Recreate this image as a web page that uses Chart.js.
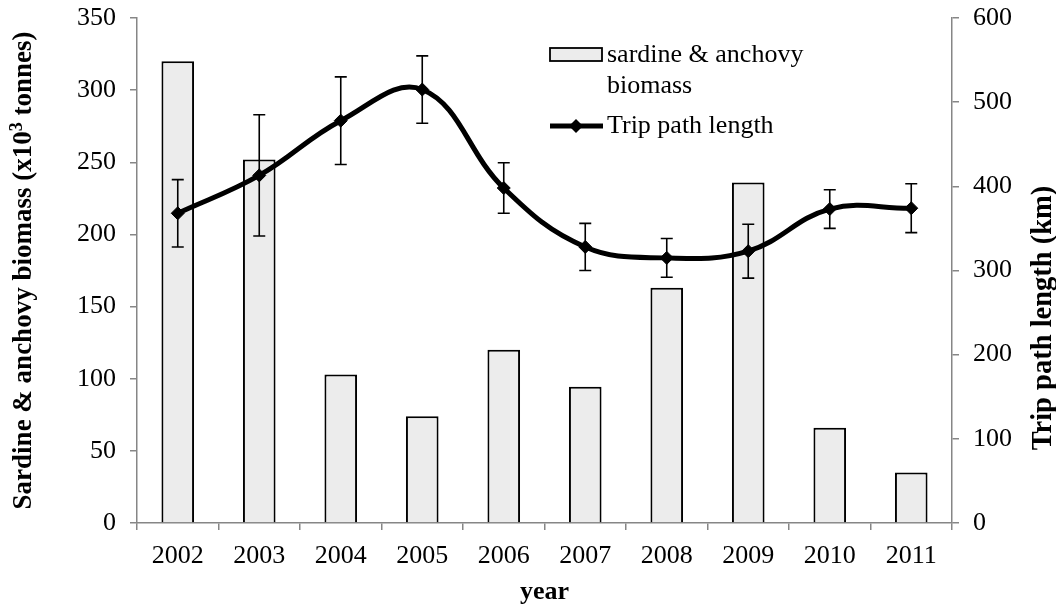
<!DOCTYPE html>
<html>
<head>
<meta charset="utf-8">
<script src="https://cdn.jsdelivr.net/npm/chart.js@4"></script>
<style>
  html, body { margin: 0; padding: 0; background: #fff; }
  #wrap { width: 1056px; height: 607px; position: relative; }
</style>
</head>
<body>
<div id="wrap"><canvas id="biomassChart" width="1056" height="607"></canvas></div>
<script>
// values
const years = ["2002", "2003", "2004", "2005", "2006", "2007", "2008", "2009", "2010", "2011"];
const biomass = [320, 252, 103, 74, 120, 94.5, 163, 236, 66, 35];
const tripLength = [368, 413, 478, 515, 398, 328, 315, 323, 373, 374];
const tripError = [40, 72, 52, 40, 30, 28, 23, 32, 23, 29];

const serif = '"Liberation Serif", "Times New Roman", serif';
const axisGrey = "#868686";

// error bars on the trip path line
const errorBars = {
    id: "errorBars",
    afterDatasetsDraw(chart) {
        const ctx = chart.ctx;
        const meta = chart.getDatasetMeta(1);
        const y = chart.scales.y2;
        ctx.save();
        ctx.strokeStyle = "#000";
        ctx.lineWidth = 1.6;
        meta.data.forEach((pt, i) => {
            const top = y.getPixelForValue(tripLength[i] + tripError[i]);
            const bot = y.getPixelForValue(tripLength[i] - tripError[i]);
            ctx.beginPath();
            ctx.moveTo(pt.x, top); ctx.lineTo(pt.x, bot);
            ctx.moveTo(pt.x - 6, top); ctx.lineTo(pt.x + 6, top);
            ctx.moveTo(pt.x - 6, bot); ctx.lineTo(pt.x + 6, bot);
            ctx.stroke();
        });
        ctx.restore();
    }
};

// legend with wrapped text + both axis titles read bottom-to-top
const customLegend = {
    id: "customLegend",
    afterDraw(chart) {
        const ctx = chart.ctx;
        ctx.save();
        ctx.fillStyle = "#ececec";
        ctx.fillRect(550, 48, 52, 13);
        ctx.strokeStyle = "#000";
        ctx.lineWidth = 1.8;
        ctx.strokeRect(550, 48, 52, 13);

        ctx.lineWidth = 5;
        ctx.beginPath();
        ctx.moveTo(550, 126); ctx.lineTo(603, 126);
        ctx.stroke();
        ctx.fillStyle = "#000";
        ctx.beginPath();
        ctx.moveTo(576, 119); ctx.lineTo(583, 126); ctx.lineTo(576, 133); ctx.lineTo(569, 126);
        ctx.closePath();
        ctx.fill();

        ctx.font = "26px " + serif;
        ctx.textBaseline = "middle";
        ctx.fillText("sardine & anchovy", 607, 55);
        ctx.fillText("biomass", 607, 86);
        ctx.fillText("Trip path length", 607, 126);

        // left title with a real superscript
        const area = chart.chartArea;
        const big = "bold 27px " + serif, small = "bold 18px " + serif;
        const p1 = "Sardine & anchovy biomass (x10", p2 = "3", p3 = " tonnes)";
        ctx.font = big;
        const w1 = ctx.measureText(p1).width, w3 = ctx.measureText(p3).width;
        ctx.font = small;
        const w2 = ctx.measureText(p2).width;
        const total = w1 + w2 + w3;
        ctx.save();
        ctx.translate(24, (area.top + area.bottom) / 2);
        ctx.rotate(-Math.PI / 2);
        ctx.textAlign = "left";
        ctx.textBaseline = "middle";
        ctx.font = big;
        ctx.fillText(p1, -total / 2, 0);
        ctx.font = small;
        ctx.fillText(p2, -total / 2 + w1, -7);
        ctx.font = big;
        ctx.fillText(p3, -total / 2 + w1 + w2, 0);
        ctx.restore();

        ctx.save();
        ctx.translate(1044, 318);
        ctx.rotate(-Math.PI / 2);
        ctx.textAlign = "center";
        ctx.textBaseline = "middle";
        ctx.font = "bold 28.5px " + serif;
        ctx.fillText("Trip path length (km)", 0, 0);
        ctx.restore();
        ctx.restore();
    }
};

new Chart(document.getElementById("biomassChart"), {
    type: "bar",
    data: {
        labels: years,
        datasets: [
            {
                label: "sardine & anchovy biomass",
                data: biomass,
                backgroundColor: "#ececec",
                borderColor: "#000",
                borderWidth: 2,
                barPercentage: 0.4,
                categoryPercentage: 1,
                yAxisID: "y",
                order: 2
            },
            {
                type: "line",
                label: "Trip path length",
                data: tripLength,
                borderColor: "#000",
                borderWidth: 5,
                tension: 0.4,
                pointStyle: "rectRot",
                pointRadius: 6.5,
                pointBackgroundColor: "#000",
                pointBorderColor: "#000",
                pointBorderWidth: 1,
                yAxisID: "y2",
                order: 1
            }
        ]
    },
    options: {
        responsive: false,
        animation: false,
        devicePixelRatio: 1,
        layout: { padding: { top: 18, left: 0, right: 0, bottom: 0 } },
        plugins: { legend: { display: false }, tooltip: { enabled: false } },
        scales: {
            x: {
                offset: true,
                grid: { offset: true, drawOnChartArea: false, tickLength: 7, color: axisGrey, lineWidth: 1.5 },
                border: { color: axisGrey, width: 1.5 },
                ticks: { color: "#000", font: { family: serif, size: 26 }, padding: 11, maxRotation: 0 },
                title: { display: true, text: "year", color: "#000", font: { family: serif, size: 26, weight: "bold", lineHeight: 1 }, padding: { top: 0, bottom: 2 } },
                afterFit(scale) { scale.height = 84; scale.paddingLeft = 0; scale.paddingRight = 0; }
            },
            y: {
                position: "left",
                min: 0, max: 350,
                ticks: { stepSize: 50, color: "#000", font: { family: serif, size: 26 }, padding: 14 },
                grid: { drawOnChartArea: false, tickLength: 7, color: axisGrey, lineWidth: 1.5 },
                border: { color: axisGrey, width: 1.5 },
                afterFit(scale) { scale.width = 137; scale.paddingTop = 0; scale.paddingBottom = 0; }
            },
            y2: {
                position: "right",
                min: 0, max: 600,
                ticks: { stepSize: 100, color: "#000", font: { family: serif, size: 26 }, padding: 14 },
                grid: { drawOnChartArea: false, tickLength: 7, color: axisGrey, lineWidth: 1.5 },
                border: { color: axisGrey, width: 1.5 },
                afterFit(scale) { scale.width = 104; scale.paddingTop = 0; scale.paddingBottom = 0; }
            }
        }
    },
    plugins: [errorBars, customLegend]
});
</script>
</body>
</html>
